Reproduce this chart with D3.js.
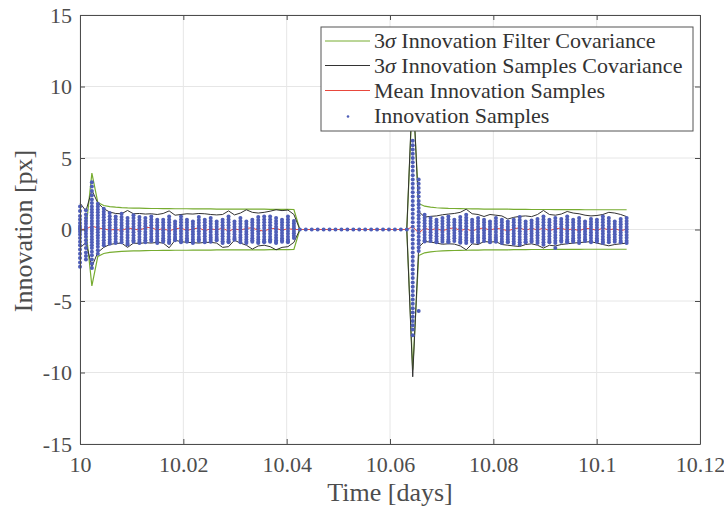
<!DOCTYPE html>
<html><head><meta charset="utf-8">
<script src="https://cdn.jsdelivr.net/npm/d3@7"></script>
<style>body{margin:0;background:#fff}</style>
</head><body><svg id="c" width="724" height="511"></svg>
<script>
// ---------------- data ----------------
const times = [
 10.00000,10.00115,10.00230,10.00345,10.00460,10.00575,10.00690,10.00805,10.00920,10.01035,
 10.01150,10.01265,10.01380,10.01495,10.01610,10.01725,10.01840,10.01955,10.02070,10.02185,
 10.02300,10.02415,10.02530,10.02645,10.02760,10.02875,10.02990,10.03105,10.03220,10.03335,
 10.03450,10.03565,10.03680,10.03795,10.03910,10.04025,10.04140,10.04255,10.04370,10.04485,
 10.04600,10.04715,10.04830,10.04945,10.05060,10.05175,10.05290,10.05405,10.05520,10.05635,
 10.05750,10.05865,10.05980,10.06095,10.06210,10.06325,10.06440,10.06555,10.06670,10.06785,
 10.06900,10.07015,10.07130,10.07245,10.07360,10.07475,10.07590,10.07705,10.07820,10.07935,
 10.08050,10.08165,10.08280,10.08395,10.08510,10.08625,10.08740,10.08855,10.08970,10.09085,
 10.09200,10.09315,10.09430,10.09545,10.09660,10.09775,10.09890,10.10005,10.10120,10.10235,
 10.10350,10.10465,10.10580];

const filterSigma3 = [
 0,0,3.95,1.88,1.68,1.60,1.56,1.53,1.51,1.50,
 1.49,1.48,1.47,1.47,1.46,1.46,1.45,1.45,1.45,1.44,
 1.44,1.44,1.44,1.43,1.43,1.43,1.43,1.43,1.42,1.42,
 1.42,1.42,1.41,1.41,1.41,1.41,1.40,0,0,0,
 0,0,0,0,0,0,0,0,0,0,
 0,0,0,0,0,0,9.8,1.82,1.63,1.56,
 1.52,1.50,1.48,1.47,1.46,1.45,1.44,1.44,1.43,1.43,
 1.42,1.42,1.42,1.41,1.41,1.41,1.40,1.40,1.40,1.40,
 1.39,1.39,1.39,1.39,1.39,1.38,1.38,1.38,1.38,1.38,
 1.38,1.38,1.38];

const sampleSigmaUpper = [
 1.85,1.30,2.75,1.85,1.45,1.22,1.12,1.10,1.33,1.10,
 1.12,1.08,1.10,1.05,1.12,1.30,1.00,1.05,1.10,1.08,
 1.12,1.10,1.05,1.02,1.05,1.30,1.02,1.15,1.38,1.20,
 1.15,1.20,1.28,1.38,1.32,1.36,1.05,0,0,0,
 0,0,0,0,0,0,0,0,0,0,
 0,0,0,0,0,0,10.3,1.26,0.87,0.92,
 0.95,1.03,1.08,1.12,1.20,1.42,1.10,1.05,0.91,1.05,
 1.00,0.95,0.73,0.85,0.92,0.95,0.90,1.05,1.33,1.05,
 1.00,1.08,1.26,1.15,1.10,1.00,0.95,0.98,1.05,1.20,
 1.15,1.05,0.90];

const sampleSigmaLower = [
 -1.30,-0.90,-2.60,-1.60,-1.25,-1.05,-0.98,-0.95,-1.25,-0.95,
 -0.98,-0.92,-0.95,-0.90,-0.95,-1.28,-0.75,-0.85,-0.90,-0.92,
 -0.95,-0.90,-0.90,-0.95,-1.25,-1.20,-0.75,-0.95,-1.10,-1.37,
 -1.15,-1.10,-1.20,-1.42,-1.25,-1.20,-0.90,0,0,0,
 0,0,0,0,0,0,0,0,0,0,
 0,0,0,0,0,0,-10.3,-1.23,-0.84,-0.88,
 -0.95,-1.03,-1.00,-1.02,-1.15,-1.42,-1.00,-1.05,-0.84,-0.88,
 -0.85,-1.05,-1.10,-1.15,-1.19,-1.05,-1.00,-1.10,-1.30,-1.10,
 -1.15,-1.05,-1.00,-0.95,-0.92,-0.88,-0.85,-0.95,-1.05,-1.14,
 -1.05,-1.00,-0.95];

const meanInnovation = [
 0.00,0.02,0.25,0.10,0.05,-0.05,0.03,-0.08,0.10,0.05,
 -0.05,0.12,0.15,-0.05,0.08,-0.10,0.05,0.10,-0.06,0.03,
 0.12,-0.08,0.05,-0.03,0.10,-0.12,0.05,-0.05,0.08,0.12,
 -0.06,-0.10,0.05,0.08,-0.05,0.06,0.00,0,0,0,
 0,0,0,0,0,0,0,0,0,0,
 0,0,0,0,0,0,0.20,-0.25,0.10,-0.05,
 0.08,-0.10,0.05,0.12,-0.08,0.05,-0.12,0.06,0.10,-0.05,
 0.08,0.03,-0.10,0.05,0.12,-0.06,0.08,-0.03,0.10,-0.08,
 0.05,0.10,-0.05,0.06,-0.10,0.08,0.05,-0.06,0.10,-0.04,
 0.06,-0.08,0.02];

// innovation samples, one list per time step
const innovationSamples = [
 [1.6,1.3,0.95,0.7,0.45,0.25,0.1,0,-0.15,-0.35,-0.6,-0.85,-1.1,-1.4,-1.7,-2.0,-2.3,-2.6],
 [1.35,1.05,0.8,0.6,0.4,0.2,0.05,-0.1,-0.3,-0.5,-0.75,-1.0,-1.3,-1.6,-1.85,-2.1],
 [3.3,3.0,2.7,2.4,2.1,1.85,1.6,1.4,1.2,1.0,0.8,0.6,0.4,0.2,0.05,-0.1,-0.3,-0.5,-0.7,-0.9,-1.1,-1.3,-1.55,-1.8,-2.1,-2.4,-2.7],
 [1.8,1.6,1.4,1.2,1.0,0.8,0.6,0.4,0.2,0.0,-0.2,-0.4,-0.6,-0.8,-1.0,-1.2,-1.45,-1.7],
 [1.45,1.25,1.05,0.85,0.65,0.45,0.25,0.05,-0.15,-0.35,-0.55,-0.75,-0.95,-1.1],
 [1.15,0.93,0.72,0.5,0.3,0.1,-0.1,-0.3,-0.5,-0.7,-0.88,-1.0],
 [0.91,0.72,0.52,0.33,0.13,-0.07,-0.27,-0.47,-0.67,-0.85,-0.95],
 [1.1,0.88,0.68,0.48,0.28,0.08,-0.12,-0.32,-0.52,-0.72,-0.9],
 [0.8,0.6,0.4,0.2,0.02,-0.18,-0.38,-0.58,-0.78,-0.95,-1.05],
 [1.0,0.8,0.6,0.4,0.2,0.0,-0.2,-0.4,-0.6,-0.75,-0.85],
 [0.87,0.68,0.48,0.28,0.08,-0.12,-0.32,-0.52,-0.72,-0.88,-0.95],
 [0.8,0.6,0.42,0.22,0.03,-0.17,-0.37,-0.57,-0.75,-0.9],
 [0.91,0.7,0.5,0.3,0.1,-0.1,-0.3,-0.5,-0.68,-0.8],
 [0.68,0.5,0.3,0.12,-0.08,-0.28,-0.48,-0.66,-0.82,-0.95],
 [0.68,0.5,0.32,0.13,-0.06,-0.25,-0.44,-0.62,-0.76,-0.85],
 [0.91,0.7,0.5,0.3,0.1,-0.1,-0.3,-0.5,-0.7,-0.85,-0.95],
 [0.56,0.38,0.2,0.02,-0.16,-0.34,-0.52,-0.66,-0.75],
 [0.91,0.7,0.5,0.3,0.1,-0.1,-0.3,-0.5,-0.7,-0.82,-0.9],
 [0.68,0.5,0.32,0.13,-0.06,-0.25,-0.44,-0.62,-0.76,-0.85],
 [0.56,0.38,0.2,0.02,-0.16,-0.34,-0.52,-0.7,-0.85,-0.95],
 [0.87,0.67,0.47,0.27,0.08,-0.12,-0.32,-0.52,-0.68,-0.8],
 [0.68,0.5,0.3,0.12,-0.08,-0.28,-0.48,-0.66,-0.8,-0.9],
 [0.8,0.6,0.4,0.2,0.02,-0.18,-0.38,-0.56,-0.72,-0.85],
 [0.56,0.38,0.2,0.02,-0.16,-0.34,-0.52,-0.66,-0.75],
 [0.68,0.5,0.3,0.12,-0.08,-0.28,-0.48,-0.66,-0.82,-0.95],
 [0.91,0.7,0.5,0.3,0.1,-0.1,-0.3,-0.5,-0.7,-0.82,-0.9],
 [0.56,0.38,0.2,0.02,-0.16,-0.34,-0.52,-0.64,-0.72],
 [0.8,0.6,0.4,0.2,0.02,-0.18,-0.38,-0.56,-0.74,-0.9],
 [0.56,0.38,0.2,0.02,-0.16,-0.34,-0.52,-0.7,-0.85,-0.95],
 [0.68,0.5,0.32,0.13,-0.06,-0.25,-0.44,-0.62,-0.76,-0.85],
 [0.87,0.67,0.47,0.27,0.08,-0.12,-0.32,-0.52,-0.7,-0.85,-0.95],
 [0.91,0.7,0.5,0.3,0.1,-0.1,-0.3,-0.5,-0.7,-0.82,-0.9],
 [0.91,0.7,0.5,0.3,0.1,-0.1,-0.3,-0.5,-0.68,-0.78,-0.85],
 [0.8,0.6,0.4,0.2,0.02,-0.18,-0.38,-0.58,-0.76,-0.88,-0.95],
 [0.68,0.5,0.32,0.13,-0.06,-0.25,-0.44,-0.62,-0.76,-0.85],
 [0.91,0.7,0.5,0.3,0.1,-0.1,-0.3,-0.5,-0.7,-0.82,-0.9],
 [0.6,0.42,0.25,0.08,-0.1,-0.27,-0.44,-0.6],
 [0],[0],[0],[0],[0],[0],[0],[0],[0],[0],
 [0],[0],[0],[0],[0],[0],[0],[0],[0],
 [6.2,5.9,5.6,5.3,5.0,4.7,4.4,4.1,3.8,3.5,3.2,2.9,2.6,2.3,2.0,1.7,1.4,1.1,0.8,0.5,0.2,-0.1,-0.4,-0.7,-1.0,-1.3,-1.6,-1.9,-2.2,-2.5,-2.8,-3.1,-3.4,-3.7,-4.0,-4.3,-4.6,-4.9,-5.2,-5.5,-5.8,-6.1,-6.4,-6.7,-7.0,-7.4],
 [3.5,3.2,2.9,2.6,2.3,2.0,1.75,1.5,1.25,1.0,0.75,0.5,0.25,0.0,-0.25,-0.5,-0.75,-1.0,-1.25,-1.5,-5.7],
 [1.03,0.83,0.63,0.43,0.23,0.03,-0.17,-0.37,-0.57,-0.75,-0.84],
 [0.8,0.6,0.4,0.2,0.0,-0.2,-0.4,-0.6,-0.8],
 [0.68,0.5,0.3,0.12,-0.08,-0.28,-0.48,-0.66,-0.82,-0.9],
 [0.8,0.6,0.4,0.2,0.02,-0.18,-0.38,-0.56,-0.72,-0.85],
 [0.91,0.7,0.5,0.3,0.1,-0.1,-0.3,-0.5,-0.7,-0.82,-0.9],
 [0.68,0.5,0.32,0.13,-0.06,-0.25,-0.44,-0.62,-0.8],
 [0.87,0.67,0.47,0.27,0.08,-0.12,-0.32,-0.52,-0.7,-0.85,-0.93],
 [1.03,0.83,0.63,0.43,0.23,0.03,-0.17,-0.37,-0.57,-0.77,-0.95],
 [0.68,0.5,0.32,0.13,-0.06,-0.25,-0.44,-0.62,-0.76,-0.85],
 [0.8,0.6,0.4,0.2,0.02,-0.18,-0.38,-0.56,-0.74,-0.9],
 [0.68,0.5,0.32,0.13,-0.06,-0.25,-0.44,-0.62,-0.8],
 [0.56,0.38,0.2,0.02,-0.16,-0.34,-0.52,-0.7,-0.85,-0.9],
 [0.8,0.6,0.4,0.2,0.02,-0.18,-0.38,-0.56,-0.72,-0.85],
 [0.68,0.5,0.3,0.12,-0.08,-0.28,-0.48,-0.66,-0.82,-0.95],
 [0.56,0.38,0.2,0.02,-0.16,-0.34,-0.52,-0.7,-0.85,-0.9],
 [0.68,0.5,0.3,0.12,-0.08,-0.28,-0.48,-0.66,-0.84,-1.0],
 [0.87,0.67,0.47,0.27,0.08,-0.12,-0.32,-0.52,-0.72,-0.9,-1.05],
 [0.56,0.38,0.2,0.02,-0.16,-0.34,-0.52,-0.7,-0.85,-0.9],
 [0.63,0.45,0.27,0.08,-0.1,-0.28,-0.46,-0.64,-0.78,-0.85],
 [0.73,0.55,0.36,0.17,-0.02,-0.21,-0.4,-0.59,-0.78,-0.95],
 [0.91,0.7,0.5,0.3,0.1,-0.1,-0.3,-0.5,-0.7,-0.9,-1.07],
 [0.68,0.5,0.3,0.12,-0.08,-0.28,-0.48,-0.66,-0.8,-0.9],
 [0.8,0.6,0.4,0.2,0.02,-0.18,-0.38,-0.58,-0.78,-0.95,-1.3],
 [0.73,0.55,0.36,0.17,-0.02,-0.21,-0.4,-0.59,-0.75,-0.85],
 [0.91,0.7,0.5,0.3,0.1,-0.1,-0.3,-0.5,-0.7,-0.82,-0.9],
 [0.68,0.5,0.32,0.13,-0.06,-0.25,-0.44,-0.62,-0.76,-0.85],
 [0.8,0.6,0.4,0.2,0.02,-0.18,-0.38,-0.58,-0.78,-0.95],
 [0.56,0.38,0.2,0.02,-0.16,-0.34,-0.52,-0.68,-0.8],
 [0.73,0.55,0.36,0.17,-0.02,-0.21,-0.4,-0.59,-0.78,-0.9],
 [0.68,0.5,0.32,0.13,-0.06,-0.25,-0.44,-0.62,-0.76,-0.85],
 [0.91,0.7,0.5,0.3,0.1,-0.1,-0.3,-0.5,-0.7,-0.85,-0.95],
 [0.8,0.6,0.4,0.2,0.02,-0.18,-0.38,-0.56,-0.74,-0.9],
 [0.56,0.38,0.2,0.02,-0.16,-0.34,-0.52,-0.7,-0.85],
 [0.73,0.55,0.36,0.17,-0.02,-0.21,-0.4,-0.59,-0.78,-0.9],
 [0.8,0.6,0.4,0.2,0.02,-0.18,-0.38,-0.58,-0.78,-0.95]
];

const xTicks = [10, 10.02, 10.04, 10.06, 10.08, 10.1, 10.12];
const yTicks = [-15, -10, -5, 0, 5, 10, 15];
const legendLabels = ["Innovation Filter Covariance", "Innovation Samples Covariance", "Mean Innovation Samples", "Innovation Samples"];

// ---------------- drawing ----------------
const W = 724, H = 511;
const P = {l: 80, r: 700, t: 15, b: 444};
const svg = d3.select('#c');
svg.append('rect').attr('width', W).attr('height', H).attr('fill', '#fff');

const x = d3.scaleLinear().domain([10, 10.12]).range([P.l, P.r]);
const y = d3.scaleLinear().domain([-15, 15]).range([P.b, P.t]);

const FONT = "'Liberation Serif','Times New Roman',serif";
const AX = '#4d4d4d';

// grid
const grid = svg.append('g');
grid.selectAll('.gx').data(xTicks).join('line')
  .attr('x1', d => x(d)).attr('x2', d => x(d)).attr('y1', P.t).attr('y2', P.b)
  .attr('stroke', '#e6e6e6').attr('stroke-width', 1);
grid.selectAll('.gy').data(yTicks).join('line')
  .attr('y1', d => y(d)).attr('y2', d => y(d)).attr('x1', P.l).attr('x2', P.r)
  .attr('stroke', '#e6e6e6').attr('stroke-width', 1);

const idx = d3.range(times.length);
const line = acc => d3.line().x(i => x(times[i])).y(i => y(acc(i)));

const GREEN = '#77ac30', DARK = '#333333', RED = '#e8473c', BLUE = '#4f5eb8';

const plot = svg.append('g');
plot.append('path').attr('d', line(i => filterSigma3[i])(idx))
  .attr('fill', 'none').attr('stroke', GREEN).attr('stroke-width', 1.2);
plot.append('path').attr('d', line(i => -filterSigma3[i])(idx))
  .attr('fill', 'none').attr('stroke', GREEN).attr('stroke-width', 1.2);
plot.append('path').attr('d', line(i => sampleSigmaUpper[i])(idx))
  .attr('fill', 'none').attr('stroke', DARK).attr('stroke-width', 1);
plot.append('path').attr('d', line(i => sampleSigmaLower[i])(idx))
  .attr('fill', 'none').attr('stroke', DARK).attr('stroke-width', 1);
plot.append('path').attr('d', line(i => meanInnovation[i])(idx))
  .attr('fill', 'none').attr('stroke', RED).attr('stroke-width', 1);

const pts = [];
innovationSamples.forEach((col, i) => col.forEach(v => pts.push({t: times[i], v})));
plot.selectAll('circle.s').data(pts).join('circle')
  .attr('cx', d => x(d.t)).attr('cy', d => y(d.v)).attr('r', 2.0)
  .attr('fill', BLUE);

// axes (ticks inward on all sides)
const gB = svg.append('g').attr('transform', `translate(0,${P.b})`)
  .call(d3.axisBottom(x).tickValues(xTicks).tickSize(-5).tickSizeOuter(0).tickPadding(12).tickFormat(d => String(d)));
const gL = svg.append('g').attr('transform', `translate(${P.l},0)`)
  .call(d3.axisLeft(y).tickValues(yTicks).tickSize(-5).tickSizeOuter(0).tickPadding(8).tickFormat(d => String(d)));
const gT = svg.append('g').attr('transform', `translate(0,${P.t})`)
  .call(d3.axisTop(x).tickValues(xTicks).tickSize(-5).tickSizeOuter(0).tickFormat(''));
const gR = svg.append('g').attr('transform', `translate(${P.r},0)`)
  .call(d3.axisRight(y).tickValues(yTicks).tickSize(-5).tickSizeOuter(0).tickFormat(''));
[gB, gL, gT, gR].forEach(g => {
  g.selectAll('path.domain').attr('stroke', AX);
  g.selectAll('.tick line').attr('stroke', AX);
  g.selectAll('.tick text').attr('fill', AX).style('font-family', FONT).style('font-size', '22px');
});

svg.append('text').attr('x', (P.l + P.r) / 2).attr('y', 501)
  .attr('text-anchor', 'middle').attr('fill', AX)
  .style('font-family', FONT).style('font-size', '26px').text('Time [days]');
svg.append('text').attr('transform', 'translate(32,231) rotate(-90)')
  .attr('text-anchor', 'middle').attr('fill', AX)
  .style('font-family', FONT).style('font-size', '26px').text('Innovation [px]');

// legend
const lg = svg.append('g');
lg.append('rect').attr('x', 321).attr('y', 27).attr('width', 372).attr('height', 104)
  .attr('fill', '#fff').attr('stroke', '#555').attr('stroke-width', 1);
const rows = [41, 65.5, 90.5, 115.5];
const kinds = [{c: GREEN}, {c: DARK}, {c: RED}, {dot: true}];
rows.forEach((ry, k) => {
  if (kinds[k].dot) {
    lg.append('circle').attr('cx', 348).attr('cy', ry + 1).attr('r', 1.3).attr('fill', BLUE);
  } else {
    lg.append('line').attr('x1', 325).attr('x2', 370).attr('y1', ry).attr('y2', ry)
      .attr('stroke', kinds[k].c).attr('stroke-width', 1);
  }
  const t = lg.append('text').attr('x', 374).attr('y', ry + 7).attr('fill', '#333')
    .style('font-family', FONT).style('font-size', '22px');
  if (k < 2) {
    t.append('tspan').text('3');
    t.append('tspan').style('font-style', 'italic').text('σ');
    t.append('tspan').text(' ' + legendLabels[k]);
  } else {
    t.text(legendLabels[k]);
  }
});
</script>
</body></html>
